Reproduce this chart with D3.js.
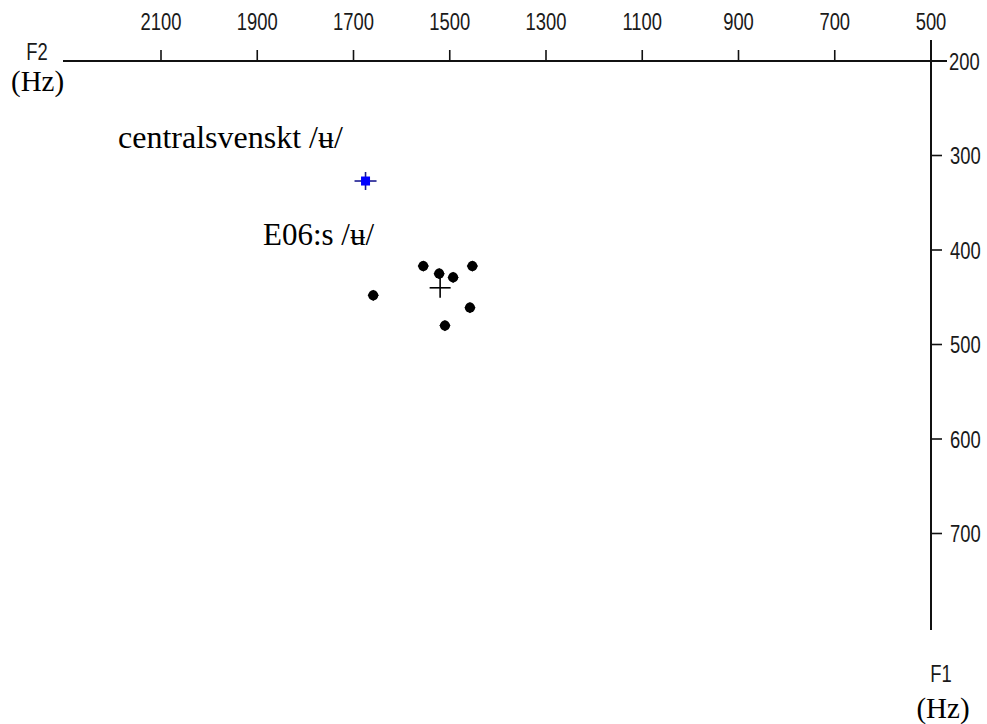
<!DOCTYPE html>
<html>
<head>
<meta charset="utf-8">
<script src="https://cdn.jsdelivr.net/npm/d3@7/dist/d3.min.js"></script>
<style>
  html, body { margin: 0; padding: 0; background: #fff; }
  svg { display: block; }
  .tick-label { font-family: "Liberation Sans", Arial, sans-serif; font-size: 23px; fill: #1a1a1a; }
  .serif { font-family: "Liberation Serif", "Times New Roman", serif; fill: #000; }
</style>
</head>
<body>
<svg id="chart" width="987" height="724"></svg>
<script>
// ---- Data ----
const f2Ticks = [2100, 1900, 1700, 1500, 1300, 1100, 900, 700, 500];
const f1Ticks = [200, 300, 400, 500, 600, 700];

// Reference vowel (centralsvenskt /ʉ/): [F2, F1]
const referenceF2 = [1675];
const referenceF1 = [327];

// Speaker E06 tokens of /ʉ/
const speakerF2 = [1555, 1522, 1493, 1453, 1659, 1458, 1510];
const speakerF1 = [417, 425, 429, 417, 448, 461, 480];

// Speaker mean
const meanF2 = [1520];
const meanF1 = [440];

const labels = {
  reference: "centralsvenskt /ʉ/",
  speaker: "E06:s /ʉ/",
  xName: "F2",
  yName: "F1",
  unit: "(Hz)"
};

// ---- Scales ----
const svg = d3.select("#chart");
const x = d3.scaleLinear().domain([2100, 500]).range([161, 931]);
const y = d3.scaleLinear().domain([200, 800]).range([61, 628]);

const axisX = x(500);     // vertical axis position
const axisY = y(200);     // horizontal axis position
const SX = 0.8;           // horizontal squeeze for the condensed tick font

// ---- Axes lines ----
svg.append("line")
  .attr("x1", 63).attr("x2", axisX + 16)
  .attr("y1", axisY).attr("y2", axisY)
  .attr("stroke", "#111").attr("stroke-width", 2);

svg.append("line")
  .attr("x1", axisX).attr("x2", axisX)
  .attr("y1", 40).attr("y2", 630)
  .attr("stroke", "#111").attr("stroke-width", 2);

// X ticks (upward) and labels
const xt = svg.append("g");
xt.selectAll("line").data(f2Ticks.filter(d => d !== 500)).join("line")
  .attr("x1", d => x(d)).attr("x2", d => x(d))
  .attr("y1", axisY - 11).attr("y2", axisY)
  .attr("stroke", "#111").attr("stroke-width", 1.6);
xt.selectAll("text").data(f2Ticks).join("text")
  .attr("class", "tick-label")
  .attr("transform", d => `translate(${x(d)},30) scale(${SX},1)`)
  .attr("text-anchor", "middle")
  .text(d => d);

// Y ticks (rightward) and labels
const yt = svg.append("g");
yt.selectAll("line").data(f1Ticks.filter(d => d !== 200)).join("line")
  .attr("x1", axisX).attr("x2", axisX + 11)
  .attr("y1", d => y(d)).attr("y2", d => y(d))
  .attr("stroke", "#111").attr("stroke-width", 1.6);
yt.selectAll("text").data(f1Ticks).join("text")
  .attr("class", "tick-label")
  .attr("transform", d => `translate(${d === 200 ? axisX + 18 : axisX + 19},${y(d) + 8.5}) scale(${SX},1)`)
  .text(d => d);

// Axis names
svg.append("text").attr("class", "tick-label")
  .attr("transform", `translate(37,60) scale(${SX},1)`)
  .attr("text-anchor", "middle").text(labels.xName);
svg.append("text").attr("class", "serif")
  .attr("x", 11).attr("y", 91).style("font-size", "29px").text(labels.unit);
svg.append("text").attr("class", "tick-label")
  .attr("transform", `translate(941,682) scale(${SX},1)`)
  .attr("text-anchor", "middle").text(labels.yName);
svg.append("text").attr("class", "serif")
  .attr("x", 943).attr("y", 718).attr("text-anchor", "middle").style("font-size", "29px").text(labels.unit);

// Annotations
svg.append("text").attr("class", "serif")
  .attr("x", 118).attr("y", 148).style("font-size", "32px").text(labels.reference);
svg.append("text").attr("class", "serif")
  .attr("x", 263).attr("y", 245).style("font-size", "31px").text(labels.speaker);

// ---- Speaker points ----
const speakerPts = speakerF2.map((f2, i) => ({ f2, f1: speakerF1[i] }));
svg.append("g").selectAll("path").data(speakerPts).join("path")
  .attr("transform", d => `translate(${x(d.f2)},${y(d.f1)})`)
  .attr("d", d3.symbol().type(d3.symbolCircle).size(80))
  .attr("fill", "#000");
svg.append("g").selectAll("path").data(speakerPts).join("path")
  .attr("transform", d => `translate(${x(d.f2)},${y(d.f1)}) rotate(45)`)
  .attr("d", d3.symbol().type(d3.symbolSquare).size(64))
  .attr("fill", "#000");

// ---- Mean cross ----
const meanPts = meanF2.map((f2, i) => ({ f2, f1: meanF1[i] }));
const mg = svg.append("g").selectAll("g").data(meanPts).join("g")
  .attr("transform", d => `translate(${x(d.f2)},${y(d.f1)})`);
mg.append("line").attr("x1", -10.5).attr("x2", 10.5).attr("y1", 0).attr("y2", 0)
  .attr("stroke", "#000").attr("stroke-width", 1.6);
mg.append("line").attr("x1", 0).attr("x2", 0).attr("y1", -10).attr("y2", 10)
  .attr("stroke", "#000").attr("stroke-width", 1.6);

// ---- Reference point ----
const refPts = referenceF2.map((f2, i) => ({ f2, f1: referenceF1[i] }));
const rg = svg.append("g").selectAll("g").data(refPts).join("g")
  .attr("transform", d => `translate(${x(d.f2)},${y(d.f1)})`);
rg.append("line").attr("x1", -11).attr("x2", 11).attr("y1", 0).attr("y2", 0)
  .attr("stroke", "#1a1a90").attr("stroke-width", 1.6);
rg.append("line").attr("x1", 0).attr("x2", 0).attr("y1", -9).attr("y2", 9)
  .attr("stroke", "#1a1a90").attr("stroke-width", 1.6);
rg.append("rect").attr("x", -4.5).attr("y", -4.5).attr("width", 9).attr("height", 9)
  .attr("fill", "#0000ff");
</script>
</body>
</html>
